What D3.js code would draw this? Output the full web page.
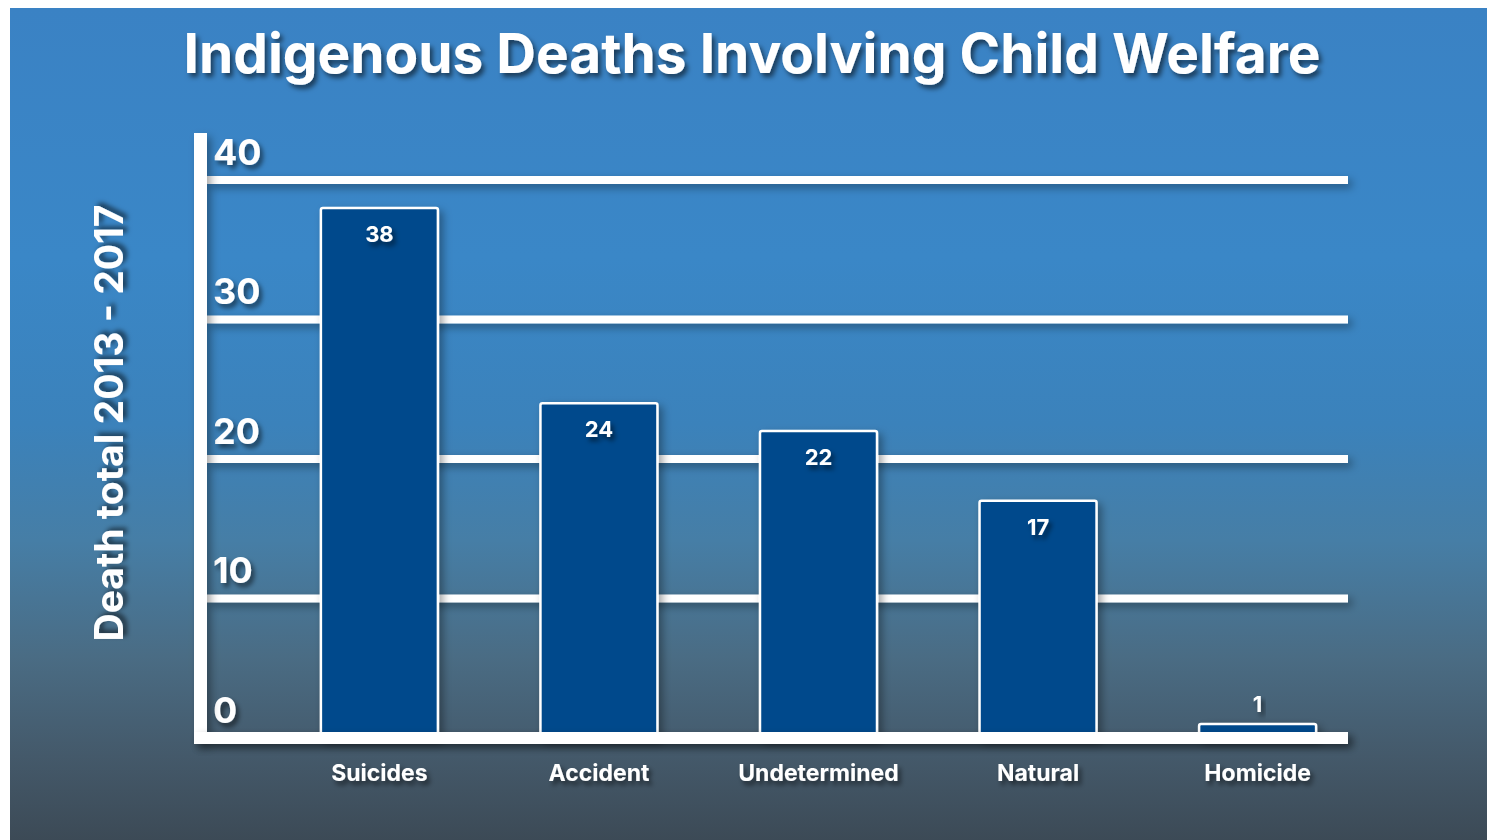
<!DOCTYPE html>
<html>
<head>
<meta charset="utf-8">
<script src="https://cdn.jsdelivr.net/npm/d3@7"></script>
<style>
  body { margin: 0; background: #fff; }
  svg { display: block; }
  text { font-family: Inter, "Open Sans", sans-serif; font-weight: 700; fill: #fff; }
</style>
</head>
<body>
<div id="graf"></div>
<script>
// datos
categorias = ['Suicides', 'Accident', 'Undetermined', 'Natural', 'Homicide']
muertes = [38, 24, 22, 17, 1]
ticks = [0, 10, 20, 30, 40]
titulo = 'Indigenous Deaths Involving Child Welfare'
tituloY = 'Death total 2013 - 2017'

ancho_total = 1487
alto_total = 840

svg = d3.select('#graf').append('svg')
        .attr('width', ancho_total)
        .attr('height', alto_total)

defs = svg.append('defs')

grad = defs.append('linearGradient')
           .attr('id', 'fondo')
           .attr('x1', 0).attr('y1', 0).attr('x2', 0).attr('y2', 1)
;[['0', '#3a82c4'], ['0.3', '#3a87c7'], ['0.5', '#3b82bb'], ['0.64', '#467ea6'],
  ['0.78', '#4a6c84'], ['0.9', '#44596a'], ['1', '#3c4a56']].forEach(s => {
  grad.append('stop').attr('offset', s[0]).attr('stop-color', s[1])
})

sombra = defs.append('filter').attr('id', 'sombra')
             .attr('x', '-20%').attr('y', '-20%').attr('width', '150%').attr('height', '150%')
sombra.append('feDropShadow')
      .attr('dx', 3).attr('dy', 4).attr('stdDeviation', 2.5)
      .attr('flood-color', '#000').attr('flood-opacity', 0.55)

sombraBarra = defs.append('filter').attr('id', 'sombraBarra')
             .attr('filterUnits', 'userSpaceOnUse')
             .attr('x', 0).attr('y', 0).attr('width', ancho_total).attr('height', alto_total)
sombraBarra.append('feDropShadow')
      .attr('dx', 4).attr('dy', 4).attr('stdDeviation', 4)
      .attr('flood-color', '#000').attr('flood-opacity', 0.35)

svg.append('rect')
   .attr('x', 10).attr('y', 8)
   .attr('width', ancho_total - 10).attr('height', alto_total - 8)
   .attr('fill', 'url(#fondo)')

// escalas
y = d3.scaleLinear().domain([0, 40]).range([738, 180])
x = d3.scaleBand()
      .domain(categorias)
      .range([266, 1371])
      .paddingInner(0.467)
      .paddingOuter(0.25)

ejeX0 = 207, ejeX1 = 1348

// lineas de la grilla
svg.append('g')
   .attr('filter', 'url(#sombraBarra)')
   .selectAll('rect')
   .data(ticks)
   .enter().append('rect')
     .attr('x', ejeX0)
     .attr('y', d => y(d) - 4)
     .attr('width', ejeX1 - ejeX0)
     .attr('height', 8)
     .attr('fill', '#fff')

// etiquetas eje y
yAxisGroup = svg.append('g')
                .attr('transform', `translate(${ ejeX0 }, 0)`)
yAxisGroup.call(d3.axisRight(y).tickValues(ticks).tickSize(0))
yAxisGroup.select('.domain').remove()
yAxisGroup.selectAll('text')
          .attr('x', 6)
          .attr('dy', -16)
          .attr('text-anchor', 'start')
          .style('font-size', '36px')
          .attr('fill', '#fff')
          .attr('filter', 'url(#sombra)')

// barras
data = categorias.map((c, i) => ({ cat: c, val: muertes[i] }))

barras = svg.append('g')
barras.selectAll('rect')
      .data(data)
      .enter().append('rect')
        .attr('x', d => x(d.cat))
        .attr('y', d => y(d.val))
        .attr('width', x.bandwidth())
        .attr('height', d => y(0) - y(d.val))
        .attr('rx', 2)
        .attr('fill', '#024a8c')
        .attr('stroke', '#fff')
        .attr('stroke-width', 2.5)
        .attr('filter', 'url(#sombraBarra)')

barras.selectAll('text')
      .data(data)
      .enter().append('text')
        .attr('x', d => x(d.cat) + x.bandwidth() / 2)
        .attr('y', d => (y(0) - y(d.val)) > 60 ? y(d.val) + 34 : y(d.val) - 12)
        .attr('text-anchor', 'middle')
        .style('font-size', '22px')
        .attr('filter', 'url(#sombra)')
        .text(d => d.val)

// ejes blancos gruesos
svg.append('rect')
   .attr('x', 194).attr('y', 133)
   .attr('width', 13).attr('height', 611)
   .attr('fill', '#fff')
   .attr('filter', 'url(#sombraBarra)')
svg.append('rect')
   .attr('x', 194).attr('y', y(0) - 6)
   .attr('width', ejeX1 - 194).attr('height', 12)
   .attr('fill', '#fff')
   .attr('filter', 'url(#sombraBarra)')

// eje x
xAxisGroup = svg.append('g')
                .attr('transform', `translate(0, ${ y(0) + 6 })`)
xAxisGroup.call(d3.axisBottom(x).tickSize(0))
xAxisGroup.select('.domain').remove()
xAxisGroup.selectAll('text')
          .attr('y', 37)
          .attr('dy', 0)
          .style('font-size', '23px')
          .attr('fill', '#fff')
          .attr('filter', 'url(#sombra)')

// titulos
svg.append('text')
   .attr('x', 752).attr('y', 73)
   .attr('text-anchor', 'middle')
   .style('font-size', '55px')
   .attr('filter', 'url(#sombra)')
   .text(titulo)

svg.append('text')
   .attr('transform', 'translate(123, 423) rotate(-90)')
   .attr('text-anchor', 'middle')
   .style('font-size', '39px')
   .attr('filter', 'url(#sombra)')
   .text(tituloY)
</script>
</body>
</html>
